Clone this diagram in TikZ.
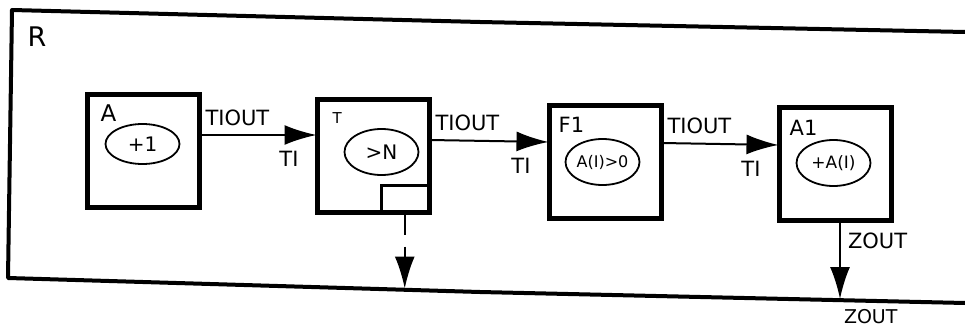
\documentclass[tikz,border=0pt]{standalone}
\usepackage{fontspec}
\setmainfont{DejaVu Sans}
\usetikzlibrary{arrows.meta,positioning,shapes.geometric}

\newcommand{\fsz}[1]{\fontsize{#1}{#1}\selectfont}

\begin{document}
\begin{tikzpicture}[x=1pt, y=-1pt,
  blk/.style={draw, line width=4.5pt, minimum width=112pt, minimum height=113pt, inner sep=0pt, outer sep=0pt},
  tag/.style={anchor=north west, inner sep=0pt, font=\fsz{21}},
  ell/.style={draw, ellipse, line width=1.8pt, minimum width=74pt, minimum height=46pt, inner sep=0pt, font=\fsz{20}},
  arr/.style={-{Latex[length=32pt,width=20pt]}, line width=2pt, shorten >=1pt},
  lab/.style={inner sep=0pt, font=\fsz{21}},
  outl/.style={lab, pos=0, anchor=south west, xshift=5pt, yshift=8pt},
  inl/.style={lab, pos=1, anchor=north east, xshift=-18pt, yshift=-15pt},
  frame/.style={line width=4pt, line join=round}
]
\useasboundingbox (0,0) rectangle (965,329);
% enclosing block R
\draw[frame] (965,32) -- (480,22) -- (12,10) -- (8,278) -- (480,292) -- (965,303);
\node[inner sep=0pt, font=\fsz{27}] (Rlab) at (37,37) {R};

% the four blocks
\node[blk] (A) at (143.5,151) {};
\node[blk, right=118pt of A, yshift=-5pt] (T) {};
\node[blk, right=120pt of T, yshift=-6pt] (F1) {};
\node[blk, right=118pt of F1, yshift=-2pt] (A1) {};

\node[tag, font=\fsz{23}] (Atag) at ([shift={(13pt,-10pt)}]A.north west) {A};
\node[tag, font=\fsz{15}] (Ttag) at ([shift={(15pt,-13pt)}]T.north west) {T};
\node[tag] (F1tag) at ([shift={(9pt,-11pt)}]F1.north west) {F1};
\node[tag] (A1tag) at ([shift={(10pt,-12pt)}]A1.north west) {A1};

\node[ell, minimum height=40pt] (Aop) at ([shift={(-1pt,7pt)}]A.center) {+1};
\node[ell] (Top) at ([shift={(8pt,4pt)}]T.center) {>N};
\node[ell, font=\fsz{16}] (F1op) at ([shift={(-3pt,0pt)}]F1.center) {A(I)>0};
\node[ell, font=\fsz{17}] (A1op) at ([shift={(-2pt,1pt)}]A1.center) {+A(I)};

\node[draw, line width=2.5pt, minimum width=47pt, minimum height=26pt, inner sep=0pt, anchor=south east] (Tsub) at (T.south east) {};

% connectors
\draw[arr] ([yshift=16pt]A.east) -- ([yshift=21pt]T.west)
  node[outl] (o1) {TIOUT} node[inl] (i1) {TI};
\draw[arr] ([yshift=16pt]T.east) -- ([yshift=20pt]F1.west)
  node[outl] (o2) {TIOUT} node[inl] (i2) {TI};
\draw[arr] ([yshift=19pt]F1.east) -- ([yshift=19pt]A1.west)
  node[outl] (o3) {TIOUT} node[inl] (i3) {TI};

\path (Tsub.south) ++(0,76) coordinate (tout);
\coordinate (zout) at (840,299);
\draw[arr, shorten >=0pt, dash pattern=on 22pt off 12pt on 60pt] (Tsub.south) -- (tout);
\draw[arr, shorten >=0pt] (A1.south -| zout) -- (zout)
  node[lab, pos=0, anchor=north west, xshift=7pt, yshift=-11pt] (z1) {ZOUT}
  node[lab, pos=1, anchor=north west, xshift=3pt, yshift=-9pt, font=\fsz{19}] (z2) {ZOUT};
\end{tikzpicture}
\end{document}
